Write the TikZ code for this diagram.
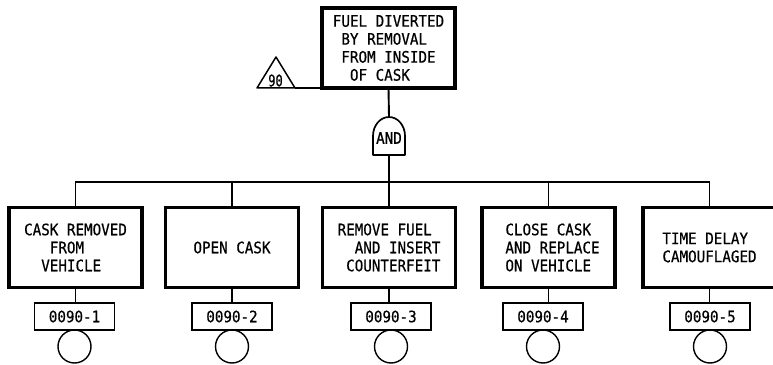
\documentclass[tikz,border=0pt]{standalone}
\usepackage{fontspec}
\newfontfamily\mono[FakeStretch=0.9,FakeBold=0.6]{DejaVu Sans Mono}
\newfontfamily\monotight[FakeStretch=0.75,FakeBold=0.6]{DejaVu Sans Mono}
\newcommand\ind[1]{\hphantom{#1}}
\newcommand\labelfont{\mono\fontsize{15.8}{18}\selectfont}
\begin{document}
\begin{tikzpicture}[x=1pt,y=1pt,
  evt/.style={draw, line width=3.1pt, minimum width=133pt, minimum height=80pt,
    inner sep=0pt, outer sep=0pt, align=left, font=\labelfont},
  idbox/.style={draw, line width=1.4pt, minimum width=80pt, minimum height=27pt,
    inner sep=0pt, outer sep=0pt, font=\labelfont},
  basic/.style={draw, circle, line width=1.4pt, minimum size=33pt, inner sep=0pt,
    outer sep=0pt},
  link/.style={line width=1.9pt},
  thin/.style={line width=1.5pt, line join=round},
]
\useasboundingbox (0,0) rectangle (773,364);

% top event
\node[evt] (top) at (388.5,316)
  {FUEL DIVERTED\\\ind{B}BY REMOVAL\\\ind{F}FROM INSIDE\\\ind{OF}OF CASK};

% transfer triangle
\coordinate (tl) at (257,276);
\coordinate (tr) at (295,276);
\coordinate (tapex) at (276,307);
\draw[thin] (tl) -- (tapex) -- (tr) -- cycle;
\draw[thin] (tr) -- (top.south west);
\node[font=\monotight\fontsize{16}{18}\selectfont] (tri) at (275.5,283.5) {90};

% AND gate
\node[font=\labelfont] (and) at (389,226) {AND};
\draw[line width=1.7pt, line join=round]
  ([xshift=-16pt,yshift=-17pt]and.center) -- ++(0,19)
  arc[start angle=180, end angle=0, x radius=16, y radius=19]
  -- ++(0,-19) -- cycle;
\coordinate (gin) at ([yshift=21pt]and.center);
\coordinate (gout) at ([yshift=-17pt]and.center);
\coordinate (bar) at (389,182);
\draw[link] (top.south) -- (gin);
\draw[link] (gout) -- (bar);

% basic events
\node[evt] (b1) at (75.5,116.5) {CASK REMOVED\\\ind{CAS}FROM\\\ind{CA}VEHICLE};
\node[evt] (b2) at (232,116.5) {OPEN CASK};
\node[evt] (b3) at (389,116.5) {REMOVE FUEL\\\ind{RE}AND INSERT\\\ind{R}COUNTERFEIT};
\node[evt] (b4) at (548.5,116.5)
  {\hspace*{8pt}CLOSE CASK\\\hspace*{8pt}AND REPLACE\\\hspace*{8pt}ON VEHICLE};
\node[evt] (b5) at (709.5,116.5) {TIME DELAY\\CAMOUFLAGED};

\foreach \i in {1,...,5}{
  \draw[link] (b\i.north) |- (bar);
}

% identifiers and circles
\node[idbox] (id1) at (74.5,47.5) {0090-1};
\node[idbox] (id2) at (232,47.5) {0090-2};
\node[idbox] (id3) at (391,47.5) {0090-3};
\node[idbox] (id4) at (543,47.5) {0090-4};
\node[idbox] (id5) at (710,47.5) {0090-5};

\foreach \i in {1,...,5}{
  \draw[link] (b\i.south) -- (b\i.south |- id\i.north);
  \node[basic, anchor=north] (c\i) at (id\i.south) {};
}
\end{tikzpicture}
\end{document}
